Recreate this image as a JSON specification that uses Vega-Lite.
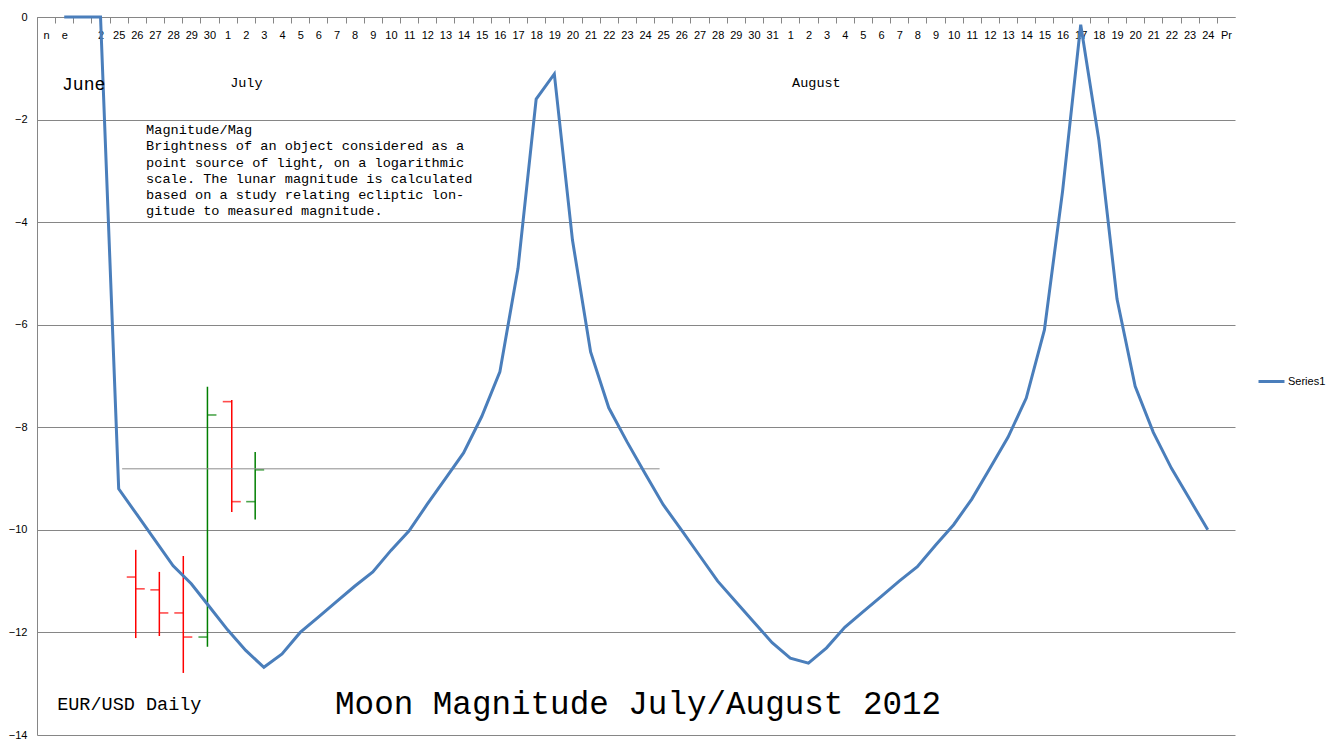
{
  "$schema": "https://vega.github.io/schema/vega-lite/v6.json",
  "width": 1198,
  "height": 718,
  "autosize": {"type": "none"},
  "padding": {"left": 37, "top": 17, "right": 97, "bottom": 9},
  "background": "white",
  "config": {
    "view": {"stroke": null},
    "font": "Liberation Sans",
    "axis": {"labelColor": "black", "labelFontSize": 11, "labelFont": "Liberation Sans"}
  },
  "datasets": {
    "moon": [
      {"i": 1, "v": 0}, {"i": 2, "v": 0}, {"i": 3, "v": 0}, {"i": 4, "v": -9.2},
      {"i": 5, "v": -9.7}, {"i": 6, "v": -10.2}, {"i": 7, "v": -10.7}, {"i": 8, "v": -11.05},
      {"i": 9, "v": -11.5}, {"i": 10, "v": -11.95}, {"i": 11, "v": -12.35}, {"i": 12, "v": -12.68},
      {"i": 13, "v": -12.42}, {"i": 14, "v": -12.0}, {"i": 15, "v": -11.7}, {"i": 16, "v": -11.4},
      {"i": 17, "v": -11.1}, {"i": 18, "v": -10.82}, {"i": 19, "v": -10.4}, {"i": 20, "v": -10.02},
      {"i": 21, "v": -9.5}, {"i": 22, "v": -9.0}, {"i": 23, "v": -8.5}, {"i": 24, "v": -7.79},
      {"i": 25, "v": -6.92}, {"i": 26, "v": -4.9}, {"i": 27, "v": -1.6}, {"i": 28, "v": -1.11},
      {"i": 29, "v": -4.35}, {"i": 30, "v": -6.53}, {"i": 31, "v": -7.62}, {"i": 32, "v": -8.28},
      {"i": 33, "v": -8.9}, {"i": 34, "v": -9.51}, {"i": 35, "v": -10.0}, {"i": 36, "v": -10.5},
      {"i": 37, "v": -11.0}, {"i": 38, "v": -11.4}, {"i": 39, "v": -11.8}, {"i": 40, "v": -12.2},
      {"i": 41, "v": -12.5}, {"i": 42, "v": -12.6}, {"i": 43, "v": -12.3}, {"i": 44, "v": -11.9},
      {"i": 45, "v": -11.6}, {"i": 46, "v": -11.3}, {"i": 47, "v": -11.0}, {"i": 48, "v": -10.72},
      {"i": 49, "v": -10.3}, {"i": 50, "v": -9.9}, {"i": 51, "v": -9.4}, {"i": 52, "v": -8.8},
      {"i": 53, "v": -8.19}, {"i": 54, "v": -7.43}, {"i": 55, "v": -6.1}, {"i": 56, "v": -3.4},
      {"i": 57, "v": -0.15}, {"i": 58, "v": -2.4}, {"i": 59, "v": -5.5}, {"i": 60, "v": -7.2},
      {"i": 61, "v": -8.1}, {"i": 62, "v": -8.8}, {"i": 63, "v": -9.4}, {"i": 64, "v": -10.0}
    ],
    "bars": [
      {"pos": 4.94, "open": -10.92, "high": -10.39, "low": -12.11, "close": -11.15},
      {"pos": 6.24, "open": -11.17, "high": -10.82, "low": -12.07, "close": -11.62},
      {"pos": 7.56, "open": -11.62, "high": -10.51, "low": -12.79, "close": -12.09},
      {"pos": 8.89, "open": -12.09, "high": -7.21, "low": -12.28, "close": -7.76},
      {"pos": 10.23, "open": -7.5, "high": -7.47, "low": -9.65, "close": -9.45},
      {"pos": 11.52, "open": -9.45, "high": -8.48, "low": -9.8, "close": -8.83}
    ]
  },
  "resolve": {"axis": {"x": "independent"}},
  "layer": [
    {
      "data": {"name": "bars"},
      "mark": {"type": "rule", "strokeWidth": 1.5},
      "encoding": {
        "x": {
          "field": "pos", "type": "quantitative",
          "scale": {"domain": [-0.5, 65.5], "nice": false, "zero": false},
          "axis": null
        },
        "y": {
          "field": "high", "type": "quantitative",
          "scale": {"domain": [-14, 0], "nice": false},
          "axis": {
            "title": null, "values": [0, -2, -4, -6, -8, -10, -12, -14],
            "grid": true, "gridColor": "#868686", "gridWidth": 1,
            "domain": true, "domainColor": "#868686", "ticks": false,
            "labelPadding": 10, "labelFlush": false
          }
        },
        "y2": {"field": "low"},
        "color": {"condition": {"test": "datum.close > datum.open", "value": "#007F00"}, "value": "#FF0000"}
      }
    },
    {
      "data": {"name": "bars"},
      "mark": {"type": "tick", "orient": "horizontal", "size": 9, "thickness": 1.6, "xOffset": -4.5},
      "encoding": {
        "x": {"field": "pos", "type": "quantitative", "axis": null},
        "y": {"field": "open", "type": "quantitative", "axis": {"title": null}},
        "color": {"condition": {"test": "datum.close > datum.open", "value": "#007F00"}, "value": "#FF0000"}
      }
    },
    {
      "data": {"name": "bars"},
      "mark": {"type": "tick", "orient": "horizontal", "size": 9, "thickness": 1.6, "xOffset": 4.5},
      "encoding": {
        "x": {"field": "pos", "type": "quantitative", "axis": null},
        "y": {"field": "close", "type": "quantitative", "axis": {"title": null}},
        "color": {"condition": {"test": "datum.close > datum.open", "value": "#007F00"}, "value": "#FF0000"}
      }
    },
    {
      "data": {"values": [{"level": "EUR/USD close"}]},
      "mark": {"type": "rule", "color": "#8C8C8C", "strokeWidth": 1},
      "encoding": {
        "x": {"datum": 4.19, "type": "quantitative", "axis": null},
        "x2": {"datum": 33.8},
        "y": {"datum": -8.81, "type": "quantitative", "axis": {"title": null}}
      }
    },
    {
      "data": {"name": "moon"},
      "mark": {"type": "line", "strokeWidth": 3, "strokeJoin": "miter"},
      "encoding": {
        "x": {
          "field": "i", "type": "quantitative",
          "axis": {
            "orient": "bottom", "offset": -718, "title": null, "grid": false,
            "ticks": true, "tickSize": 6, "tickColor": "#868686",
            "domain": true, "domainColor": "#868686",
            "tickOffset": -9.07, "labelOffset": 9.07, "labelPadding": 6,
            "labelOverlap": false, "labelFlush": false, "labelBaseline": "top",
            "values": [0,1,2,3,4,5,6,7,8,9,10,11,12,13,14,15,16,17,18,19,20,21,22,23,24,25,26,27,28,29,30,31,32,33,34,35,36,37,38,39,40,41,42,43,44,45,46,47,48,49,50,51,52,53,54,55,56,57,58,59,60,61,62,63,64,65,66],
            "labelExpr": "['n','e','','2','25','26','27','28','29','30','1','2','3','4','5','6','7','8','9','10','11','12','13','14','15','16','17','18','19','20','21','22','23','24','25','26','27','28','29','30','31','1','2','3','4','5','6','7','8','9','10','11','12','13','14','15','16','17','18','19','20','21','22','23','24','Pr',''][datum.value]"
          }
        },
        "y": {"field": "v", "type": "quantitative", "axis": {"title": null}},
        "color": {
          "datum": "Series1", "type": "nominal",
          "scale": {"range": ["#4A7EBB"]},
          "legend": {
            "orient": "none", "legendX": 1220, "legendY": 350, "title": null,
            "symbolType": "stroke", "symbolStrokeWidth": 3, "symbolSize": 676,
            "labelFontSize": 11, "labelColor": "black", "labelOffset": 2
          }
        }
      }
    },
    {
      "data": {"values": [{"t": "June"}]},
      "mark": {"type": "text", "font": "Liberation Mono", "fontSize": 18, "align": "left", "baseline": "middle", "color": "black"},
      "encoding": {
        "x": {"datum": 0.88, "type": "quantitative", "axis": null},
        "y": {"datum": -1.33, "type": "quantitative", "axis": {"title": null}},
        "text": {"field": "t"}
      }
    },
    {
      "data": {"values": [{"t": "July"}]},
      "mark": {"type": "text", "font": "Liberation Mono", "fontSize": 13.5, "align": "left", "baseline": "middle", "color": "black"},
      "encoding": {
        "x": {"datum": 10.14, "type": "quantitative", "axis": null},
        "y": {"datum": -1.29, "type": "quantitative", "axis": {"title": null}},
        "text": {"field": "t"}
      }
    },
    {
      "data": {"values": [{"t": "August"}]},
      "mark": {"type": "text", "font": "Liberation Mono", "fontSize": 13.5, "align": "left", "baseline": "middle", "color": "black"},
      "encoding": {
        "x": {"datum": 41.1, "type": "quantitative", "axis": null},
        "y": {"datum": -1.29, "type": "quantitative", "axis": {"title": null}},
        "text": {"field": "t"}
      }
    },
    {
      "data": {"values": [{"t": "Magnitude/Mag\nBrightness of an object considered as a\npoint source of light, on a logarithmic\nscale. The lunar magnitude is calculated\nbased on a study relating ecliptic lon-\ngitude to measured magnitude."}]},
      "mark": {"type": "text", "font": "Liberation Mono", "fontSize": 13.6, "lineHeight": 16.2, "lineBreak": "\n", "align": "left", "baseline": "top", "color": "black"},
      "encoding": {
        "x": {"datum": 5.51, "type": "quantitative", "axis": null},
        "y": {"datum": -2.07, "type": "quantitative", "axis": {"title": null}},
        "text": {"field": "t"}
      }
    },
    {
      "data": {"values": [{"t": "EUR/USD Daily"}]},
      "mark": {"type": "text", "font": "Liberation Mono", "fontSize": 18.5, "align": "left", "baseline": "middle", "color": "black"},
      "encoding": {
        "x": {"datum": 0.61, "type": "quantitative", "axis": null},
        "y": {"datum": -13.39, "type": "quantitative", "axis": {"title": null}},
        "text": {"field": "t"}
      }
    },
    {
      "data": {"values": [{"t": "Moon Magnitude July/August 2012"}]},
      "mark": {"type": "text", "font": "Liberation Mono", "fontSize": 32.6, "align": "left", "baseline": "middle", "color": "black"},
      "encoding": {
        "x": {"datum": 15.92, "type": "quantitative", "axis": null},
        "y": {"datum": -13.39, "type": "quantitative", "axis": {"title": null}},
        "text": {"field": "t"}
      }
    }
  ]
}
